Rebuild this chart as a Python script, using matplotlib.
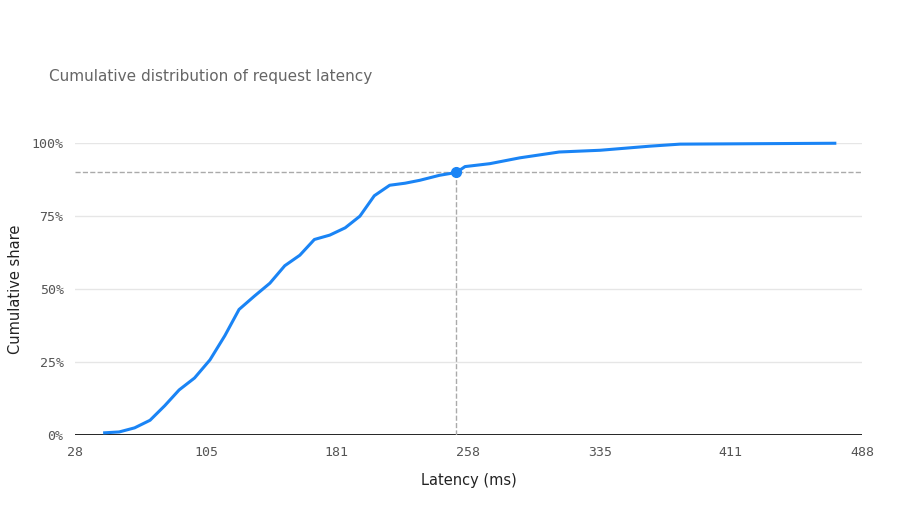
import matplotlib.pyplot as plt
from matplotlib.ticker import FuncFormatter

# ECDF knots (latency ms, cumulative share)
latency = [45.5, 54, 63, 72, 80.6, 89, 98, 107, 115.7, 124, 133, 142, 150.7,
           159.5, 168, 177, 186, 194.6, 203, 212, 221, 229.6, 241, 251, 256,
           270.5, 288, 311, 335, 364, 381.6, 472]
share = [0.007, 0.01, 0.024, 0.05, 0.10, 0.154, 0.195, 0.257, 0.34, 0.43,
         0.476, 0.52, 0.58, 0.616, 0.67, 0.685, 0.71, 0.75, 0.82, 0.856,
         0.863, 0.873, 0.89, 0.90, 0.92, 0.93, 0.95, 0.97, 0.976, 0.99,
         0.997, 1.0]
p90_x, p90_y = 251, 0.90
xticks = [28, 105, 181, 258, 335, 411, 488]
yticks = [0, 0.25, 0.5, 0.75, 1.0]

fig = plt.figure(figsize=(9, 5.08), dpi=100)
ax = fig.add_axes([0.083, 0.144, 0.875, 0.574])

for y in yticks[1:]:
    ax.axhline(y, color="#e6e6e6", lw=1, zorder=0)
ax.axhline(0, color="black", lw=1.2, zorder=1)

ax.plot(latency, share, color="#1a84f5", lw=2.2, zorder=3, clip_on=False)
ax.plot([28, 488], [p90_y, p90_y], ls="--", color="#aaaaaa", lw=1, zorder=2)
ax.plot([p90_x, p90_x], [0, p90_y], ls="--", color="#aaaaaa", lw=1, zorder=2)
ax.plot([p90_x], [p90_y], "o", color="#1a84f5", ms=7, zorder=4)

ax.set_xlim(28, 488)
ax.set_ylim(0, 1.0)
ax.set_xticks(xticks)
ax.set_yticks(yticks)
ax.yaxis.set_major_formatter(FuncFormatter(lambda v, p: f"{v * 100:.0f}%"))
for lab in ax.get_xticklabels() + ax.get_yticklabels():
    lab.set_family("DejaVu Sans Mono")
    lab.set_color("#555555")
    lab.set_fontsize(9.5)
ax.tick_params(length=0, pad=8)
for s in ax.spines.values():
    s.set_visible(False)

ax.set_xlabel("Latency (ms)", fontsize=10.5, color="#222222", labelpad=10)
ax.set_ylabel("Cumulative share", fontsize=10.5, color="#222222", labelpad=6)
fig.text(0.054, 0.84, "Cumulative distribution of request latency",
         fontsize=11, color="#666666")

fig.savefig("out.png")
